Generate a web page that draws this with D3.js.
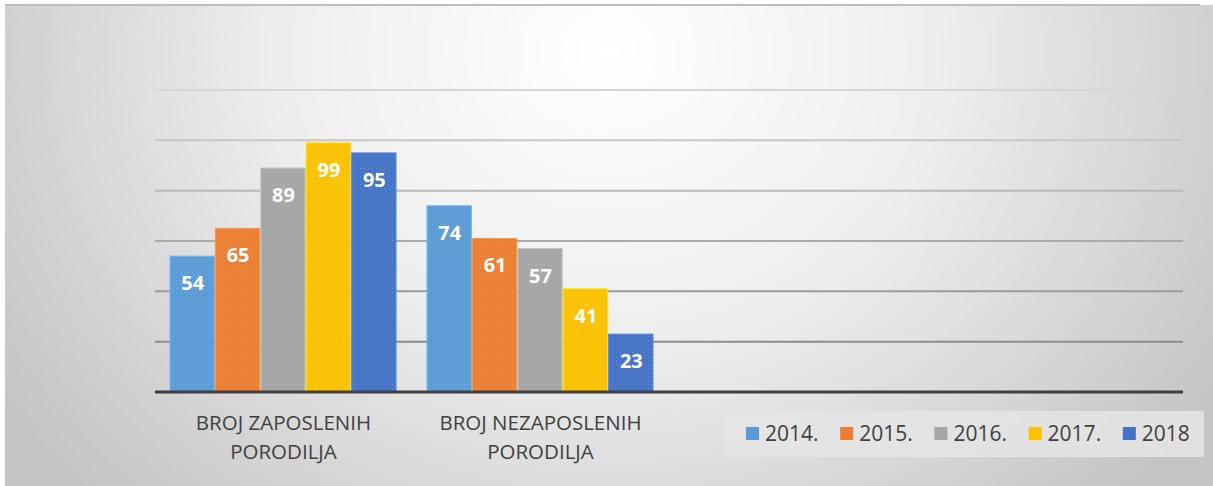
<!DOCTYPE html>
<html>
<head>
<meta charset="utf-8">
<script src="https://cdn.jsdelivr.net/npm/d3@7"></script>
<style>
  body { margin: 0; background: #fff; }
  svg { display: block; }
  text { font-family: "Open Sans", "DejaVu Sans", sans-serif; }
</style>
</head>
<body>
<svg id="chart" width="1213" height="486"></svg>
<script>
// Data
var categories = ["BROJ ZAPOSLENIH PORODILJA", "BROJ NEZAPOSLENIH PORODILJA", "", ""];
var years = ["2014.", "2015.", "2016.", "2017.", "2018"];
var colors = ["#5B9BD5", "#ED7D31", "#A5A5A5", "#FFC000", "#4472C4"];
var v2014 = [54, 74];
var v2015 = [65, 61];
var v2016 = [89, 57];
var v2017 = [99, 41];
var v2018 = [95, 23];
var yTicks = [0, 20, 40, 60, 80, 100, 120];

var series = [v2014, v2015, v2016, v2017, v2018];

var svg = d3.select("#chart");
var W = 1213, H = 486;
var plot = { left: 155, right: 1183, top: 90, bottom: 392 };

// Background gradient + texture
var defs = svg.append("defs");
var bg = defs.append("radialGradient").attr("id", "bg")
  .attr("cx", "50%").attr("cy", "10%").attr("r", "60%")
  .attr("gradientTransform", "translate(0.5,0.1) scale(1,2.2) translate(-0.5,-0.1)");
bg.append("stop").attr("offset", "0%").attr("stop-color", "#ffffff");
bg.append("stop").attr("offset", "45%").attr("stop-color", "#eeeeee");
bg.append("stop").attr("offset", "100%").attr("stop-color", "#c4c4c4");

var tex = defs.append("pattern").attr("id", "tex")
  .attr("width", 4).attr("height", 4).attr("patternUnits", "userSpaceOnUse");
tex.append("rect").attr("x", 0).attr("y", 0).attr("width", 1).attr("height", 1).attr("fill", "#fff").attr("opacity", 0.25);
tex.append("rect").attr("x", 2).attr("y", 2).attr("width", 1).attr("height", 1).attr("fill", "#fff").attr("opacity", 0.18);

svg.append("rect").attr("x", 5).attr("y", 5).attr("width", W - 5).attr("height", H - 5)
  .attr("fill", "url(#bg)");
svg.append("line").attr("x1", 5).attr("x2", 1200).attr("y1", 5).attr("y2", 5)
  .attr("stroke", "#bdbdbd").attr("stroke-width", 2);

// Scales
var x0 = d3.scaleBand().domain(d3.range(categories.length))
  .range([plot.left, plot.right]).paddingInner(0).paddingOuter(0);
var x1 = d3.scaleBand().domain(years).range([0, x0.bandwidth()]).paddingOuter(0.33);
var y = d3.scaleLinear().domain([0, 120]).range([plot.bottom, plot.top]);

// Gridlines (lighter at top, darker toward the base)
var gridShade = d3.scaleLinear().domain([120, 20]).range(["#d6d6d6", "#8c8c8c"]);
svg.append("g").selectAll("line")
  .data(yTicks.filter(function(d) { return d > 0; }))
  .enter().append("line")
  .attr("x1", plot.left).attr("x2", plot.right)
  .attr("y1", function(d) { return y(d); }).attr("y2", function(d) { return y(d); })
  .attr("stroke", function(d) { return gridShade(d); })
  .attr("stroke-width", 2);

// Bars
var groups = svg.append("g").selectAll("g")
  .data(series)
  .enter().append("g");

groups.each(function(vals, si) {
  var g = d3.select(this);
  var bars = g.selectAll("g").data(vals).enter().append("g");
  bars.append("rect")
    .attr("x", function(d, ci) { return x0(ci) + x1(years[si]); })
    .attr("y", function(d) { return y(d); })
    .attr("width", x1.bandwidth() - 1)
    .attr("height", function(d) { return y(0) - y(d); })
    .attr("fill", colors[si])
    .attr("stroke", d3.color(colors[si]).brighter(0.5))
    .attr("stroke-width", 1);
  bars.append("rect")
    .attr("x", function(d, ci) { return x0(ci) + x1(years[si]); })
    .attr("y", function(d) { return y(d); })
    .attr("width", x1.bandwidth() - 1)
    .attr("height", function(d) { return y(0) - y(d); })
    .attr("fill", "url(#tex)");
  bars.append("text")
    .attr("x", function(d, ci) { return x0(ci) + x1(years[si]) + x1.bandwidth() / 2; })
    .attr("y", function(d) { return y(d) + 27; })
    .attr("dy", "0.35em")
    .attr("text-anchor", "middle")
    .attr("fill", "#fff")
    .attr("font-weight", 700)
    .attr("font-size", 20)
    .text(function(d) { return d; });
});

// Baseline
svg.append("line").attr("x1", plot.left).attr("x2", plot.right)
  .attr("y1", y(0)).attr("y2", y(0))
  .attr("stroke", "#404040").attr("stroke-width", 3);

// Category labels (two lines each)
categories.forEach(function(c, i) {
  if (!c) return;
  var cut = c.lastIndexOf(" ");
  var cx = x0(i) + x0.bandwidth() / 2;
  var t = svg.append("text")
    .attr("x", cx)
    .attr("y", 423)
    .attr("text-anchor", "middle")
    .attr("fill", "#404040")
    .attr("font-size", 20.5);
  t.append("tspan").attr("x", cx).attr("dy", "0.35em").text(c.slice(0, cut));
  t.append("tspan").attr("x", cx).attr("dy", "1.42em").text(c.slice(cut + 1));
});

// Legend
var legend = svg.append("g");
legend.append("rect").attr("x", 724).attr("y", 411).attr("width", 480).attr("height", 46)
  .attr("fill", "#e4e4e4").attr("opacity", 0.85);
legend.append("rect").attr("x", 724).attr("y", 411).attr("width", 480).attr("height", 46)
  .attr("fill", "url(#tex)");
var item = legend.selectAll("g.item").data(years).enter().append("g")
  .attr("class", "item")
  .attr("transform", function(d, i) { return "translate(" + (746 + i * 94.2) + ",434)"; });
item.append("rect").attr("x", 0).attr("y", -7).attr("width", 13).attr("height", 13)
  .attr("fill", function(d, i) { return colors[i]; });
item.append("text").attr("x", 19).attr("dy", "0.35em")
  .attr("fill", "#404040").attr("font-size", 21)
  .text(function(d) { return d; });
</script>
</body>
</html>
